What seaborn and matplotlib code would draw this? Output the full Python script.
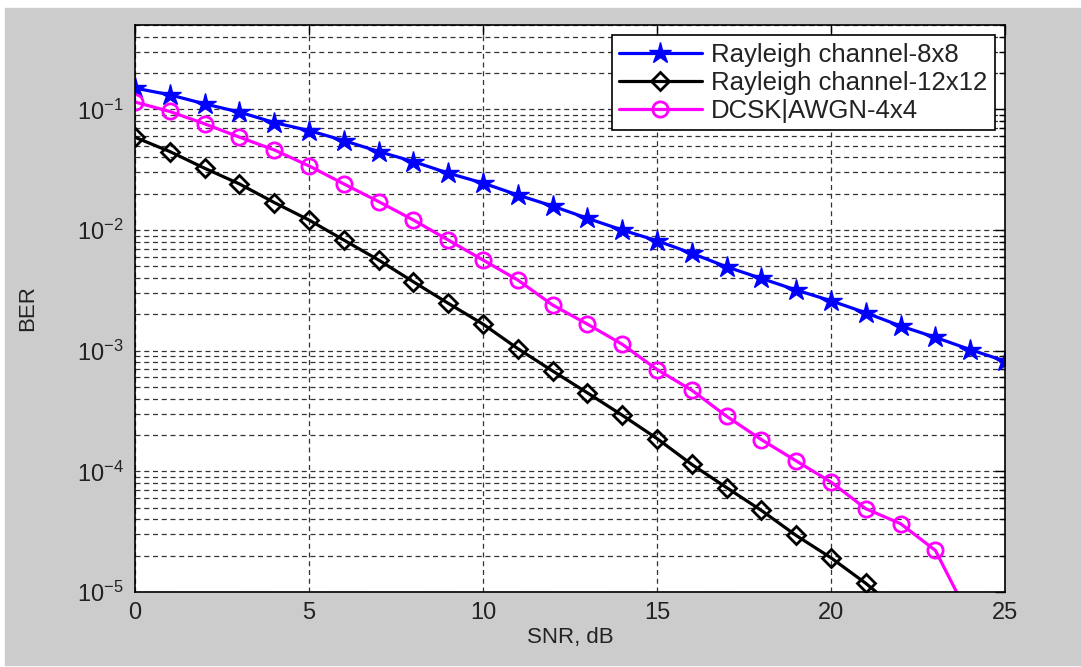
import numpy as np
import pandas as pd
import matplotlib
matplotlib.use("Agg")
import matplotlib.pyplot as plt
from matplotlib.patches import Rectangle
from matplotlib.ticker import LogLocator, NullFormatter
import seaborn as sns

# =====================
# DATA
# =====================
snr_rayleigh8 = list(range(0, 26))
ber_rayleigh8 = [0.150, 0.132, 0.111, 0.0949, 0.0777, 0.0667, 0.0551, 0.0447,
                 0.0369, 0.0296, 0.0245, 0.0195, 0.0158, 0.0125, 0.0100,
                 0.00815, 0.00641, 0.00495, 0.00397, 0.00318, 0.00259,
                 0.00206, 0.00160, 0.00129, 0.00102, 0.00082]

snr_rayleigh12 = list(range(0, 23))
ber_rayleigh12 = [0.0587, 0.0447, 0.0325, 0.0241, 0.0169, 0.0121, 0.00826,
                  0.00564, 0.00372, 0.00247, 0.00166, 0.00104, 0.000679,
                  0.000447, 0.000292, 0.000187, 0.000114, 7.33e-5, 4.74e-5,
                  2.94e-5, 1.92e-5, 1.18e-5, 6.8e-6]

snr_dcsk = list(range(0, 25))
ber_dcsk = [0.115, 0.0960, 0.0759, 0.0588, 0.0461, 0.0340, 0.0241, 0.0172,
            0.0121, 0.00826, 0.00564, 0.00385, 0.00239, 0.00166, 0.00113,
            0.000698, 0.000470, 0.000286, 0.000183, 0.000122, 8.15e-5,
            4.9e-5, 3.68e-5, 2.21e-5, 6.0e-6]

labels = ["Rayleigh channel-8x8", "Rayleigh channel-12x12", "DCSK|AWGN-4x4"]
x_ticks = [0, 5, 10, 15, 20, 25]

# =====================
# STYLE
# =====================
sns.set_style("white")
plt.rcParams["font.family"] = ["Liberation Sans", "DejaVu Sans"]
plt.rcParams["mathtext.fontset"] = "custom"
plt.rcParams["mathtext.rm"] = "Liberation Sans"
plt.rcParams["mathtext.it"] = "Liberation Sans:italic"
plt.rcParams["mathtext.bf"] = "Liberation Sans:bold"

fig = plt.figure(figsize=(10.81, 6.67), dpi=100, facecolor="white")
# latar abu-abu ala MATLAB
fig.patches.append(Rectangle((5 / 1081, 2 / 667), 1.0, 657 / 667,
                             transform=fig.transFigure, color="#cccccc",
                             zorder=-10))
ax = fig.add_axes([135 / 1081, 75 / 667, 870 / 1081, 567 / 667])
ax.set_facecolor("white")

sns.lineplot(x=snr_rayleigh8, y=ber_rayleigh8, ax=ax, color="#0000ff",
             marker="*", markersize=16, markeredgecolor="#0000ff",
             markerfacecolor="#0000ff", markeredgewidth=1,
             linewidth=2.3, label=labels[0])
sns.lineplot(x=snr_rayleigh12, y=ber_rayleigh12, ax=ax, color="black",
             marker="D", markersize=9, markeredgecolor="black",
             markerfacecolor="none", markeredgewidth=2,
             linewidth=2.3, label=labels[1])
sns.lineplot(x=snr_dcsk, y=ber_dcsk, ax=ax, color="#ff00ff",
             marker="o", markersize=11, markeredgecolor="#ff00ff",
             markerfacecolor="none", markeredgewidth=2,
             linewidth=2.3, label=labels[2])

ax.set_yscale("log")
ax.set_xlim(0, 25)
ax.set_ylim(1e-5, 0.5)
ax.set_xticks(x_ticks)
ax.yaxis.set_major_locator(LogLocator(base=10, numticks=10))
ax.yaxis.set_minor_locator(LogLocator(base=10, subs=np.arange(2, 10), numticks=20))
ax.yaxis.set_minor_formatter(NullFormatter())

ax.set_axisbelow(True)
ax.grid(True, which="major", axis="both", color="#333333",
        linestyle=(0, (4, 3)), linewidth=0.9)
ax.grid(True, which="minor", axis="y", color="#333333",
        linestyle=(0, (4, 3)), linewidth=0.9)

ax.tick_params(axis="both", which="both", direction="in", top=True,
               right=True, colors="black", labelsize=17, labelcolor="#222222")
ax.tick_params(axis="both", which="major", length=7, width=1)
ax.tick_params(axis="y", which="minor", length=4, width=1)
ax.tick_params(axis="x", which="major", pad=7)
ax.tick_params(axis="y", which="major", pad=8)

for sp in ax.spines.values():
    sp.set_color("black")
    sp.set_linewidth(1.2)

ax.set_xlabel("SNR, dB", fontsize=16, color="#222222", labelpad=2)
ax.set_ylabel("BER", fontsize=16, color="#222222", labelpad=28)

leg = ax.legend(loc="upper right", bbox_to_anchor=(0.988, 0.982),
                borderaxespad=0, fontsize=18.5, frameon=True, fancybox=False,
                handlelength=3.2, handletextpad=0.35, labelspacing=0.15,
                borderpad=0.3)
leg.get_frame().set_edgecolor("black")
leg.get_frame().set_linewidth(1.2)
leg.get_frame().set_alpha(1)
for t in leg.get_texts():
    t.set_color("#222222")

fig.savefig("out.png", dpi=100, facecolor=fig.get_facecolor())
